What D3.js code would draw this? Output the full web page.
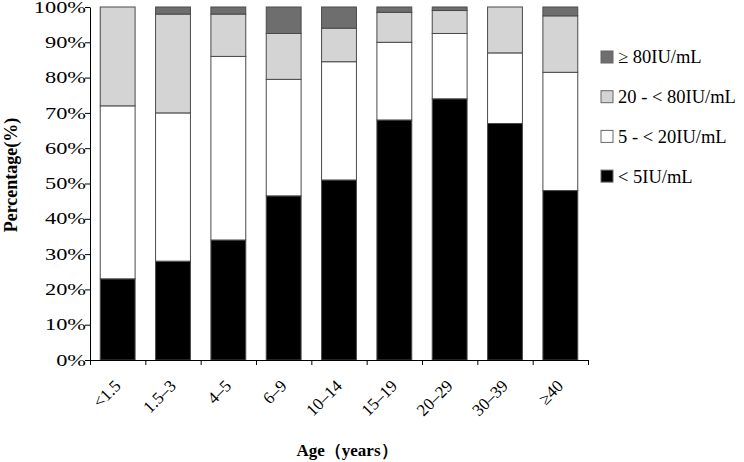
<!DOCTYPE html>
<html>
<head>
<meta charset="utf-8">
<script src="https://cdn.jsdelivr.net/npm/d3@7"></script>
<style>
  body { margin: 0; background: #fff; }
  text { font-family: "Liberation Serif", "Times New Roman", serif; fill: #000; }
</style>
</head>
<body>
<script>
// age groups and the four antibody level shares (percent)
var ages = ["<1.5", "1.5\u20133", "4\u20135", "6\u20139", "10\u201314", "15\u201319", "20\u201329", "30\u201339", "\u226540"];
var lt5     = [23, 28, 34, 46.5, 51, 68, 74, 67, 48];
var r5to20  = [49, 42, 52, 33, 33.5, 22, 18.5, 20, 33.5];
var r20to80 = [28, 28, 12, 13, 9.5, 8.5, 6.5, 13, 16];
var ge80    = [0, 2, 2, 7.5, 6, 1.5, 1, 0, 2.5];
var yTicks  = [0, 10, 20, 30, 40, 50, 60, 70, 80, 90, 100];

var keys = ["lt5", "r5to20", "r20to80", "ge80"];
var labels = { lt5: "< 5IU/mL", r5to20: "5 - < 20IU/mL", r20to80: "20 - < 80IU/mL", ge80: "\u2265 80IU/mL" };
var colors = { lt5: "#000000", r5to20: "#ffffff", r20to80: "#d4d4d4", ge80: "#6e6e6e" };

var rows = ages.map(function(a, i) {
  return { age: a, lt5: lt5[i], r5to20: r5to20[i], r20to80: r20to80[i], ge80: ge80[i] };
});

var W = 744, H = 462;
var plotL = 90, plotR = 588, plotT = 7, plotB = 360;

var svg = d3.select("body").append("svg")
  .attr("width", W)
  .attr("height", H);

var x = d3.scaleBand()
  .domain(ages)
  .range([plotL, plotR])
  .paddingInner(0.37)
  .paddingOuter(0.185);

var y = d3.scaleLinear().domain([0, 100]).range([plotB, plotT]);

var series = d3.stack().keys(keys)(rows);

svg.append("g").selectAll("g")
  .data(series)
  .enter().append("g")
  .attr("fill", function(d) { return colors[d.key]; })
  .selectAll("rect")
  .data(function(d) { return d.filter(function(s) { return s[1] - s[0] > 0; }); })
  .enter().append("rect")
  .attr("x", function(d) { return x(d.data.age); })
  .attr("y", function(d) { return y(d[1]); })
  .attr("width", x.bandwidth())
  .attr("height", function(d) { return y(d[0]) - y(d[1]); })
  .attr("stroke", "#4a4a4a")
  .attr("stroke-width", 1);

// y axis
var yAxis = svg.append("g")
  .attr("transform", "translate(" + plotL + ",0)")
  .call(d3.axisLeft(y).tickValues(yTicks).tickSize(5).tickSizeOuter(0)
    .tickFormat(function(d) { return d + "%"; }));
yAxis.select(".domain").attr("stroke", "#000");
yAxis.selectAll(".tick line").attr("stroke", "#000");
yAxis.selectAll(".tick text")
  .attr("font-size", 16)
  .attr("font-family", "Liberation Serif")
  .attr("x", -4 / 1.4)
  .attr("transform", "scale(1.4,1)");

// x axis: ticks at category boundaries
var idx = d3.scaleLinear().domain([0, ages.length]).range([plotL, plotR]);
var xAxis = svg.append("g")
  .attr("transform", "translate(0," + plotB + ")")
  .call(d3.axisBottom(idx).tickValues(d3.range(ages.length + 1)).tickSize(5).tickSizeOuter(0).tickFormat(""));
xAxis.select(".domain").attr("stroke", "#000");
xAxis.selectAll(".tick line").attr("stroke", "#000");

svg.append("g").selectAll("text")
  .data(ages)
  .enter().append("text")
  .attr("transform", function(d) {
    return "translate(" + (x(d) + x.bandwidth() / 2 + 4) + "," + (plotB + 27) + ") rotate(-45)";
  })
  .attr("text-anchor", "end")
  .attr("font-size", 17)
  .text(function(d) { return d; });

// axis titles
svg.append("text")
  .attr("transform", "translate(17,175) rotate(-90)")
  .attr("text-anchor", "middle")
  .attr("font-size", 18)
  .attr("font-weight", "bold")
  .text("Percentage(%)");

svg.append("text")
  .attr("x", 347)
  .attr("y", 456)
  .attr("text-anchor", "middle")
  .attr("font-size", 17)
  .attr("font-weight", "bold")
  .text("Age\uff08years\uff09");

// legend, top entry is the highest level
var legend = svg.append("g").selectAll("g")
  .data(keys.slice().reverse())
  .enter().append("g")
  .attr("transform", function(d, i) { return "translate(601," + (57 + i * 39.7) + ")"; });

legend.append("rect")
  .attr("x", 0)
  .attr("y", -6)
  .attr("width", 12)
  .attr("height", 12)
  .attr("fill", function(d) { return colors[d]; })
  .attr("stroke", "#666")
  .attr("stroke-width", 1);

legend.append("text")
  .attr("x", 17)
  .attr("y", 0)
  .attr("dy", "0.35em")
  .attr("font-size", 18.5)
  .text(function(d) { return labels[d]; });
</script>
</body>
</html>
